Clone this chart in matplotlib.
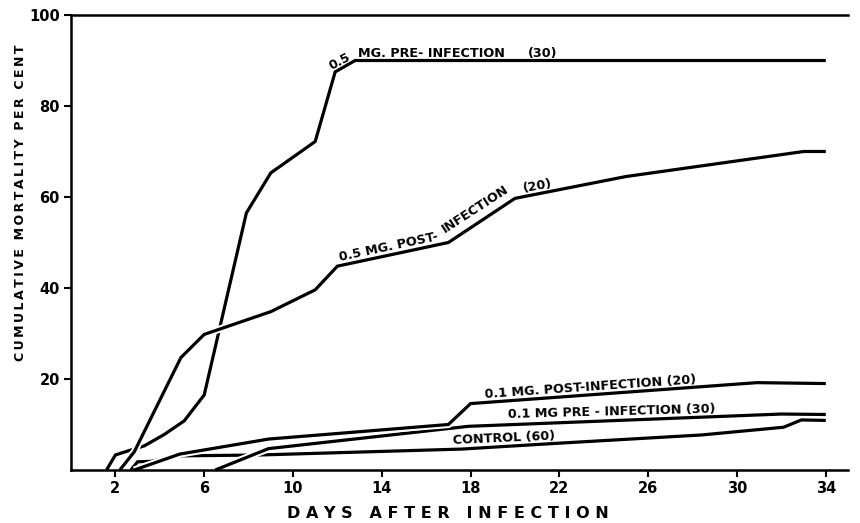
import matplotlib
matplotlib.use('Agg')
import matplotlib.pyplot as plt

# cumulative mortality (%), days after infection
days_pre05 = [1.6, 2.0, 2.7, 3.3, 4.2, 5.1, 6.0, 7.9, 9.0, 11.0, 11.9, 12.8, 34.0]
mort_pre05 = [0, 3.3, 4.4, 5.3, 7.8, 10.8, 16.5, 56.5, 65.3, 72.2, 87.5, 90, 90]

days_post05 = [2.2, 2.85, 4.95, 6.0, 9.0, 11.0, 12.0, 17.0, 20.0, 25.0, 33.0, 34.0]
mort_post05 = [0, 4.0, 24.7, 29.8, 34.8, 39.6, 44.8, 50, 59.7, 64.5, 70, 70]

days_post01 = [2.85, 4.9, 8.9, 17.0, 18.0, 30.9, 34.0]
mort_post01 = [0, 3.5, 6.8, 10.0, 14.6, 19.2, 19.0]

days_pre01 = [6.5, 8.9, 17.9, 32.0, 34.0]
mort_pre01 = [0, 4.7, 9.6, 12.3, 12.2]

days_ctrl = [2.7, 3.0, 3.6, 4.8, 8.5, 17.6, 22.0, 28.4, 32.1, 32.9, 34.0]
mort_ctrl = [0, 1.8, 1.9, 3.1, 3.3, 4.6, 5.9, 7.7, 9.4, 11.0, 10.9]

x_ticks = [2, 6, 10, 14, 18, 22, 26, 30, 34]
y_ticks = [20, 40, 60, 80, 100]

plt.rcParams['font.family'] = ['DejaVu Sans']
plt.rcParams['font.weight'] = 'bold'

fig = plt.figure(figsize=(8.6, 5.23), dpi=100)
ax = fig.add_axes([71 / 860, 1 - 470 / 523, 777 / 860, 455 / 523])
ax.set_xlim(0, 35)
ax.set_ylim(0, 100)

LW = 2.3
GAP = 5.2

def curve(x, y, z, gap=False):
    # white underlay makes the little breaks where lines cross
    if gap:
        ax.plot(x, y, color='white', lw=GAP, solid_capstyle='butt',
                zorder=z - 0.05, clip_on=False)
    ax.plot(x, y, color='black', lw=LW, solid_joinstyle='miter',
            solid_capstyle='butt', zorder=z, clip_on=False)

curve(days_pre05, mort_pre05, 2.0)
curve(days_post05, mort_post05, 2.1, gap=True)
curve(days_ctrl, mort_ctrl, 2.0)
curve(days_pre01, mort_pre01, 2.2, gap=True)
curve(days_post01, mort_post01, 2.3, gap=True)

for s in ['left', 'bottom', 'top']:
    ax.spines[s].set_linewidth(1.8)
    ax.spines[s].set_zorder(3)
ax.spines['right'].set_visible(False)

ax.set_xticks(x_ticks)
ax.set_yticks(y_ticks)
ax.tick_params(direction='out', length=5, width=1.5, labelsize=10.5, pad=3)
for lab in ax.get_xticklabels() + ax.get_yticklabels():
    lab.set_fontweight('bold')

ts = 9.2
def lbl(x, y, s, rot):
    ax.text(x, y, s, fontsize=ts, fontweight='bold', rotation=rot,
            rotation_mode='anchor', ha='left', va='baseline', zorder=4)

ax.text(12.1, 89.8, '0.5', fontsize=ts, fontweight='bold', rotation=28,
        ha='center', va='center', rotation_mode='anchor')
lbl(12.92, 90.8, 'MG. PRE- INFECTION', 0)
lbl(20.6, 90.8, '(30)', 0)
lbl(12.1, 46.0, '0.5 MG. POST-', 12)
lbl(16.85, 52.0, 'INFECTION', 33)
lbl(20.4, 61.2, '(20)', 10)
lbl(18.65, 15.8, '0.1 MG. POST-INFECTION (20)', 4)
lbl(19.7, 11.5, '0.1 MG PRE - INFECTION (30)', 1.5)
lbl(17.2, 5.7, 'CONTROL (60)', 2.5)

def spaced(t, sep=' '):
    return '   '.join(sep.join(w) for w in t.split())

fig.text(448 / 860, 1 - 514 / 523, spaced('DAYS AFTER INFECTION'),
         fontsize=11.5, fontweight='bold', ha='center', va='center')
fig.text(21 / 860, 1 - 203 / 523,
         '  '.join('\u2009'.join(w) for w in 'CUMULATIVE MORTALITY PER CENT'.split()),
         fontsize=9, fontweight='bold', ha='center', va='center',
         rotation=90)

fig.savefig('out.png', dpi=100)
